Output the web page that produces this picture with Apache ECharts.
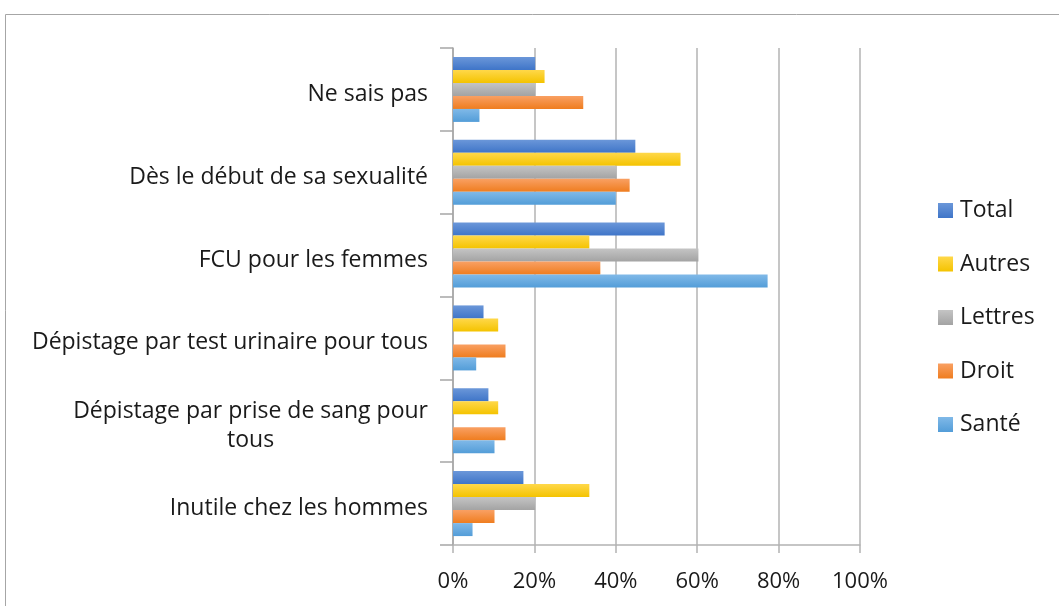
<!DOCTYPE html>
<html>
<head>
<meta charset="utf-8">
<script src="https://cdn.jsdelivr.net/npm/echarts@6/dist/echarts.min.js"></script>
<style>
  html, body { margin: 0; padding: 0; background: #fff; }
  #chart { width: 1059px; height: 606px; }
</style>
</head>
<body>
<div id="chart"></div>
<script>
// categories, bottom to top (as the value axis draws them)
const categories = [
  'Inutile chez les hommes',
  'Dépistage par prise de sang pour tous',
  'Dépistage par test urinaire pour tous',
  'FCU pour les femmes',
  'Dès le début de sa sexualité',
  'Ne sais pas'
]
// values in %
const total   = [17.3, 8.7, 7.5, 52.0, 44.8, 20.2]
const autres  = [33.5, 11.1, 11.1, 33.5, 55.9, 22.5]
const lettres = [20.2, 0, 0, 60.3, 40.2, 20.2]
const droit   = [10.2, 12.9, 12.9, 36.2, 43.4, 32.0]
const sante   = [4.8, 10.2, 5.7, 77.3, 40.0, 6.5]
const xTicks = [0, 20, 40, 60, 80, 100]

const grad = (a, b) => new echarts.graphic.LinearGradient(0, 0, 0, 1, [
  { offset: 0, color: a },
  { offset: 1, color: b }
])

// first series sits at the top of each group
const seriesDefs = [
  { name: 'Total', data: total, c: ['#6b97d9', '#3f75c8'] },
  { name: 'Autres', data: autres, c: ['#ffd84a', '#f4c300'] },
  { name: 'Lettres', data: lettres, c: ['#c4c4c4', '#a3a3a3'] },
  { name: 'Droit', data: droit, c: ['#f9a063', '#ef7d1f'] },
  { name: 'Santé', data: sante, c: ['#80b9e8', '#539dd8'] }
]

const font = '"Open Sans", Lato, sans-serif'
const chart = echarts.init(document.getElementById('chart'))

const options = {
  animation: false,
  textStyle: { fontFamily: font },
  graphic: [{
    type: 'rect',
    shape: { x: 5.5, y: 14.5, width: 1100, height: 700 },
    style: { fill: 'none', stroke: '#a6a6a6', lineWidth: 1 },
    silent: true
  }],
  grid: { left: 453, top: 48, width: 407, height: 497, containLabel: false },
  legend: {
    orient: 'vertical',
    left: 938,
    top: 199,
    padding: 0,
    itemWidth: 15,
    itemHeight: 15,
    itemGap: 30.5,
    icon: 'rect',
    data: ['Total', 'Autres', 'Lettres', 'Droit', 'Santé'],
    textStyle: { fontSize: 23, color: '#1a1a1a', fontFamily: font, lineHeight: 22, padding: [0, 0, 0, 2] }
  },
  xAxis: {
    type: 'value',
    min: 0,
    max: 100,
    interval: 20,
    axisLine: { show: true, lineStyle: { color: '#b3b3b3', width: 1.5 } },
    axisTick: { show: true, length: 8, lineStyle: { color: '#b3b3b3', width: 1.5 } },
    splitLine: { show: true, lineStyle: { color: '#b3b3b3', width: 1.5 } },
    axisLabel: {
      margin: 26,
      fontSize: 22,
      color: '#1a1a1a',
      formatter: v => xTicks.includes(v) ? v + '%' : ''
    }
  },
  yAxis: {
    type: 'category',
    data: categories,
    axisLine: { show: true, lineStyle: { color: '#a6a6a6', width: 1.5 } },
    axisTick: { show: true, length: 13, lineStyle: { color: '#a6a6a6', width: 1.5 } },
    axisLabel: {
      margin: 25,
      fontSize: 23,
      color: '#1a1a1a',
      lineHeight: 26,
      padding: [10, 0, 0, 0],
      formatter: v => v === 'Dépistage par prise de sang pour tous'
        ? '{a|Dépistage par prise de sang pour}\n{c|tous}'
        : v,
      rich: {
        a: { fontSize: 23, color: '#1a1a1a', lineHeight: 29, fontFamily: font },
        c: { fontSize: 23, color: '#1a1a1a', lineHeight: 29, align: 'center', fontFamily: font }
      }
    }
  },
  series: seriesDefs.map(s => ({
    name: s.name,
    type: 'bar',
    data: s.data,
    barWidth: 13,
    barGap: '0%',
    itemStyle: { color: grad(s.c[0], s.c[1]) }
  }))
}
chart.setOption(options)
</script>
</body>
</html>
